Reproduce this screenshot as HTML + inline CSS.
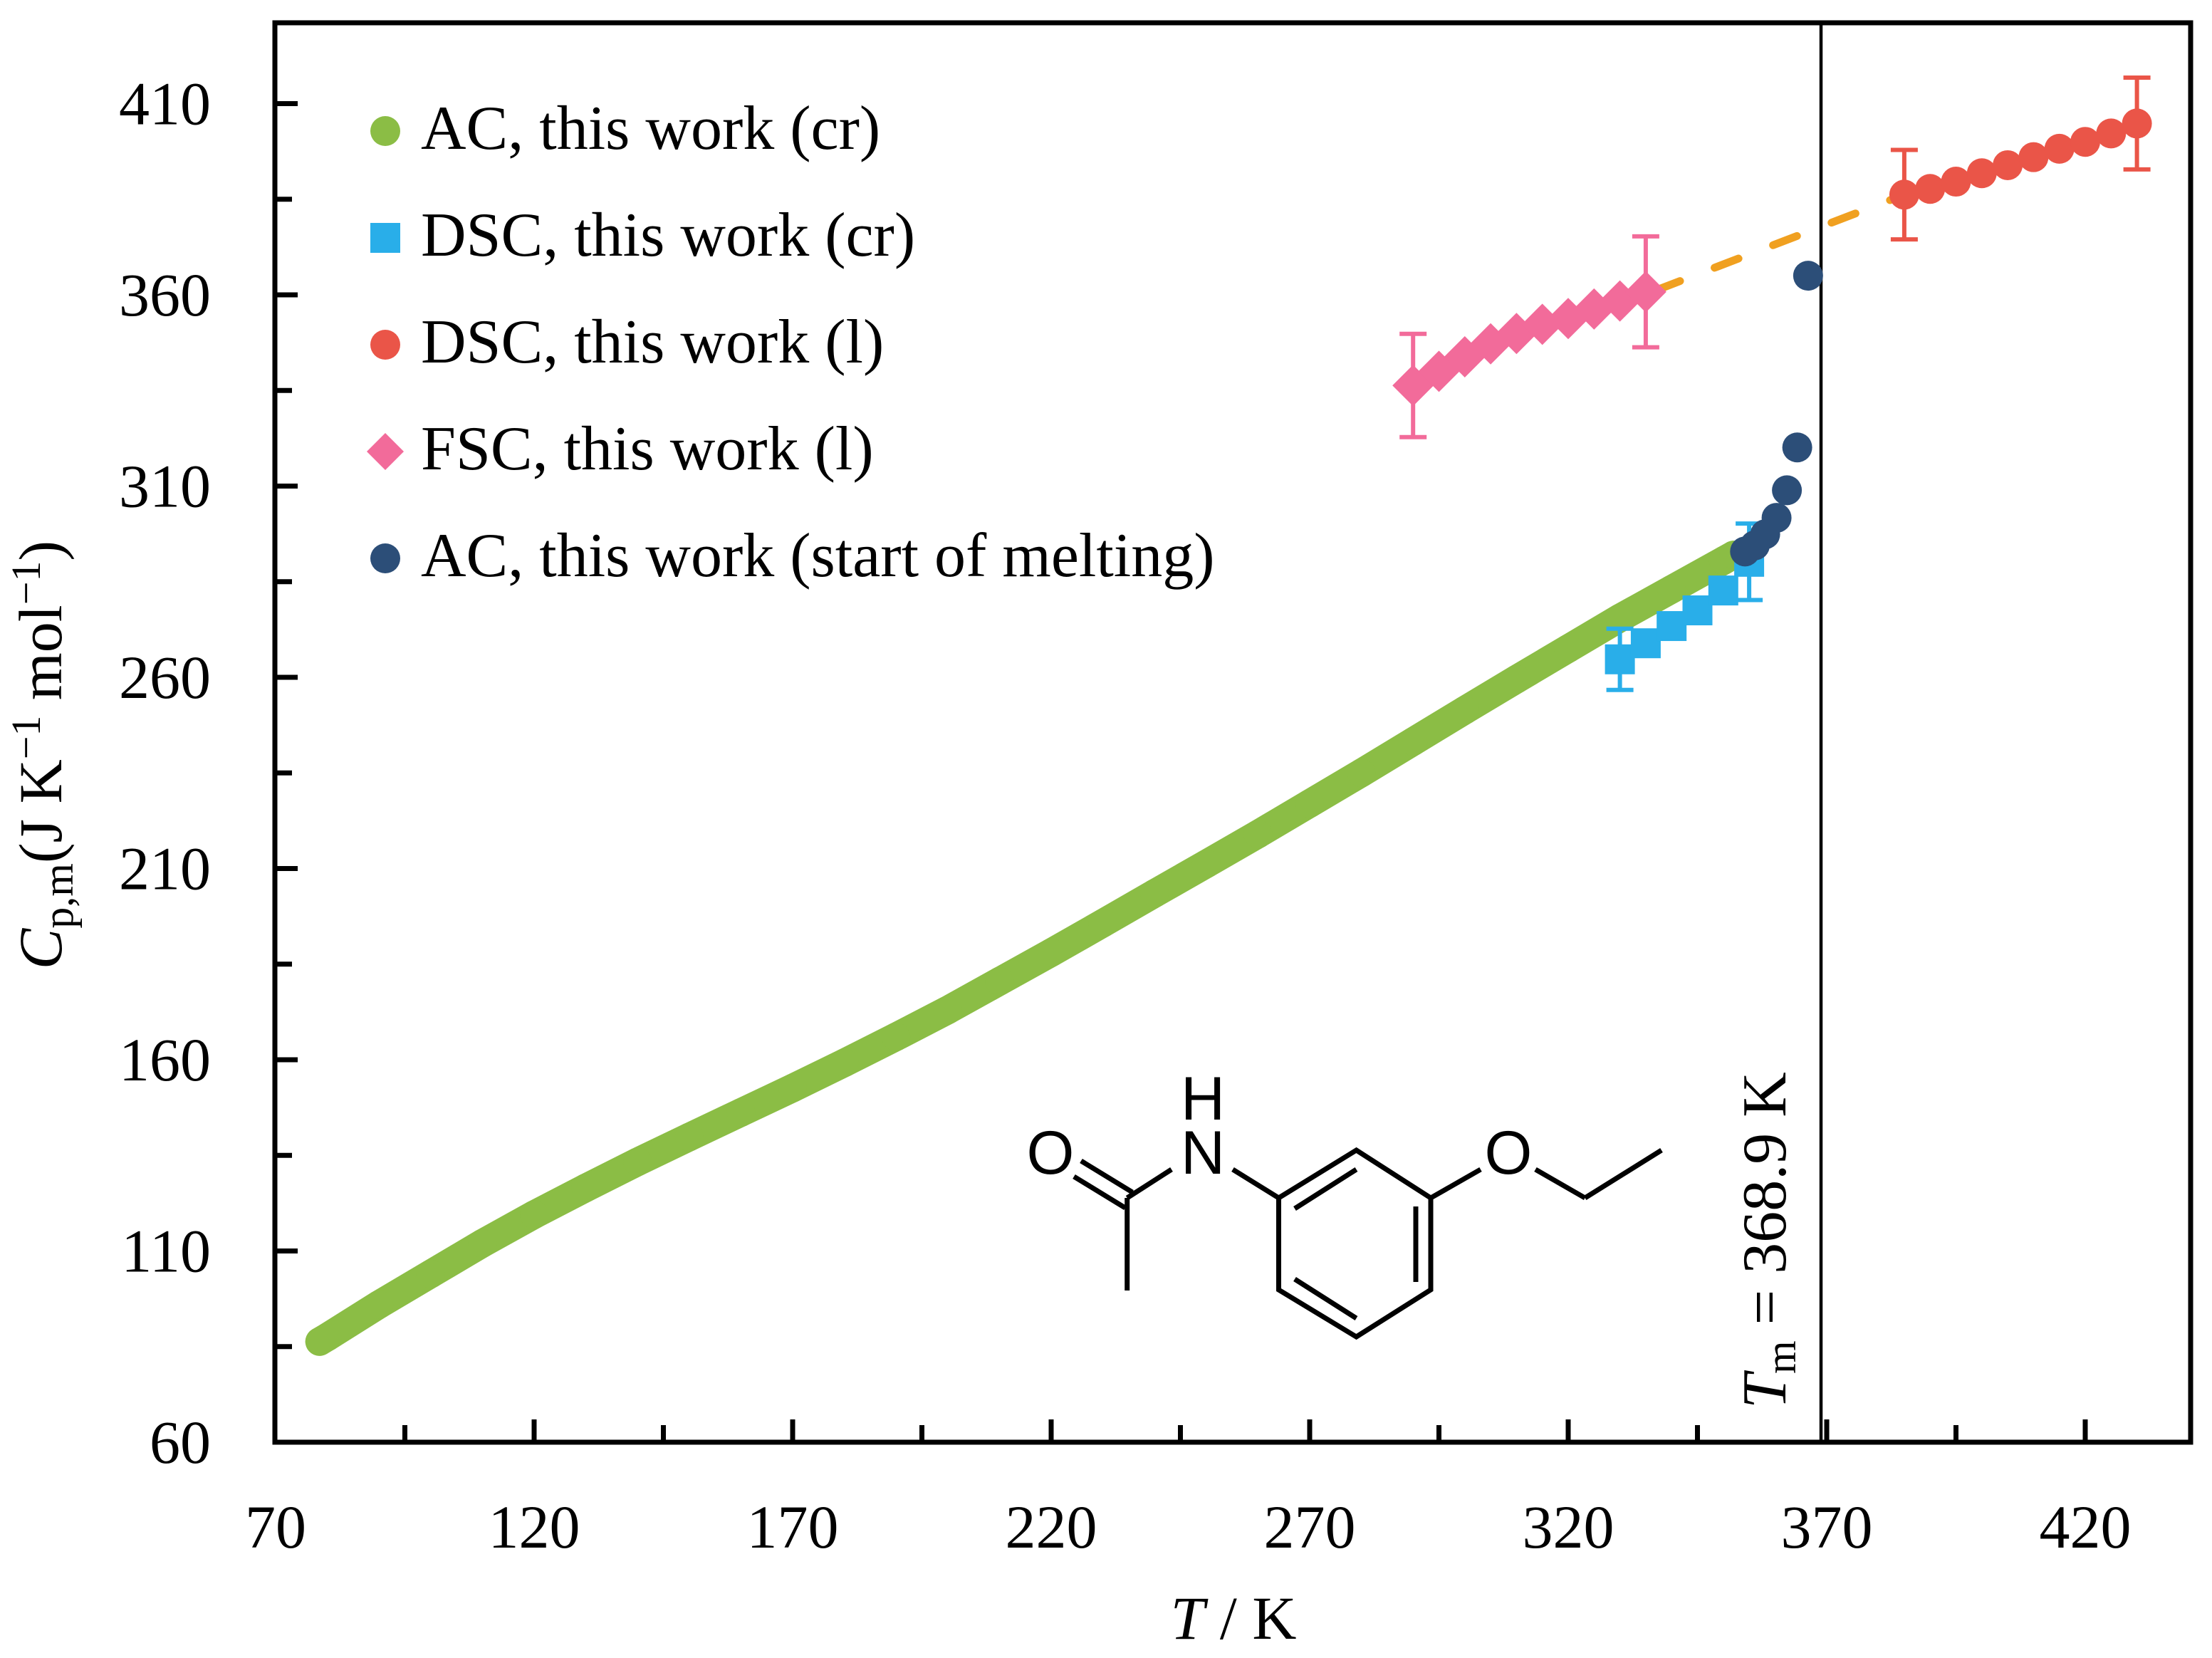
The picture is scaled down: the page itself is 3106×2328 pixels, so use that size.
<!DOCTYPE html>
<html><head><meta charset="utf-8"><style>
html,body{margin:0;padding:0;background:#fff;}
svg{display:block;}
text{font-family:"Liberation Serif",serif;fill:#000;}
.mol{font-family:"Liberation Sans",sans-serif;}
</style></head><body>
<svg id="chart" width="3106" height="2328" viewBox="0 0 3106 2328" xmlns="http://www.w3.org/2000/svg">
<rect x="0" y="0" width="3106" height="2328" fill="#fff"/>
<g id="marks"></g>
<g id="axes"></g>
<g id="molecule" stroke="#000" stroke-width="7" fill="none" stroke-linecap="butt">
  <line x1="1582.7" y1="1682" x2="1582.7" y2="1812"/>
  <line x1="1582.7" y1="1682" x2="1645" y2="1642"/>
  <line x1="1518" y1="1630" x2="1590" y2="1674"/>
  <line x1="1508" y1="1652" x2="1580" y2="1696"/>
  <line x1="1731" y1="1642" x2="1795.5" y2="1682"/>
  <polygon points="1904.5,1615 2009,1682 2009,1811 1904.5,1877 1795.5,1811 1795.5,1682"/>
  <line x1="1818" y1="1697" x2="1904.5" y2="1642"/>
  <line x1="1988" y1="1694" x2="1988" y2="1800"/>
  <line x1="1818" y1="1796" x2="1904.5" y2="1851"/>
  <line x1="2009" y1="1682" x2="2079" y2="1642"/>
  <line x1="2156" y1="1642" x2="2225.6" y2="1682"/>
  <line x1="2225.6" y1="1682" x2="2333" y2="1615"/>
  <text class="mol" x="1475" y="1648" font-size="86" text-anchor="middle" stroke="none">O</text>
  <text class="mol" x="1689" y="1648" font-size="86" text-anchor="middle" stroke="none">N</text>
  <text class="mol" x="1689" y="1572" font-size="86" text-anchor="middle" stroke="none">H</text>
  <text class="mol" x="2118" y="1648" font-size="86" text-anchor="middle" stroke="none">O</text>
</g>
</svg>
<script>
// ---- data ----
const acT = [78.5,80,90,100,110,120,130,140,150,160,170,180,190,200,210,220,230,240,250,260,270,280,290,300,310,320,330,340,350,352];
const acCp = [86.3,87.5,96,104,112,119.5,126.5,133.3,139.8,146.2,152.6,159.2,166,173,180.5,188,195.7,203.5,211.2,219,227,235,243.2,251.4,259.5,267.5,275.5,283,290.5,292];
const dscCrT = [330,335,340,345,350,355];
const dscCrCp = [264.7,268.9,273.4,277.5,282.7,290.2];
const dscCrErrIdx = [0,5];
const dscCrErr = [8,10];
const dscLT = [385,390,395,400,405,410,415,420,425,430];
const dscLCp = [386.2,387.7,389.6,391.8,393.9,396.0,398.2,400.0,402.2,404.8];
const dscLErrIdx = [0,9];
const dscLErr = [11.7,12];
const fscT = [290,295,300,305,310,315,320,325,330,335];
const fscCp = [336.3,340.0,343.8,347.2,349.9,352.3,353.8,356.3,358.4,360.8];
const fscErrIdx = [0,9];
const fscErr = [13.5,14.5];
const meltT = [354.2,356.1,358.1,360.3,362.3,364.3,366.4];
const meltCp = [292.9,294.5,297.4,301.7,308.9,320.1,365.0];
const fitT = [337,385];
const fitCp = [361.2,386.2];
const Tm = 368.9;
const xTickLabels = [70,120,170,220,270,320,370,420];
const yTickLabels = [60,110,160,210,260,310,360,410];

// ---- scales ----
const X0=387, XS=7.26, Y0=2025, YS=5.37;
const L=386, R=3076, T=32, B=2025;
function xs(t){return X0+(t-70)*XS;}
function ys(v){return Y0-(v-60)*YS;}
const NS="http://www.w3.org/2000/svg";
function mk(tag,attrs,parent){const e=document.createElementNS(NS,tag);for(const k in attrs)e.setAttribute(k,attrs[k]);parent.appendChild(e);return e;}
const marks=document.getElementById('marks');
const axes=document.getElementById('axes');

// Tm line
let tl=mk('line',{x1:xs(Tm),x2:xs(Tm),y1:T,y2:B,stroke:'#000','stroke-width':4.5},marks);


let tmt=mk('text',{transform:`translate(${xs(Tm)-50},1978) rotate(-90)`,'font-size':88},marks);


tmt.innerHTML='<tspan font-style="italic">T</tspan><tspan font-size="60" dy="14">m</tspan><tspan dy="-14"> = 368.9 K</tspan>';

// green AC band
let gp=mk('polyline',{points:acT.map((t,i)=>xs(t)+','+ys(acCp[i])).join(' '),fill:'none',stroke:'#8bbd45','stroke-width':40,'stroke-linecap':'round','stroke-linejoin':'round'},marks);


acT.forEach((t,i)=>{const c=mk('circle',{cx:xs(t),cy:ys(acCp[i]),r:20,fill:'#8bbd45'},marks);

});

function errbar(t,v,e,color,w){
  const g=mk('g',{stroke:color,'stroke-width':w},marks);
  
  
  mk('line',{x1:xs(t),x2:xs(t),y1:ys(v+e),y2:ys(v-e)},g);
  mk('line',{x1:xs(t)-19,x2:xs(t)+19,y1:ys(v+e),y2:ys(v+e)},g);
  mk('line',{x1:xs(t)-19,x2:xs(t)+19,y1:ys(v-e),y2:ys(v-e)},g);
}

// DSC cr
dscCrErrIdx.forEach((k,j)=>errbar(dscCrT[k],dscCrCp[k],dscCrErr[j],'#29aee9',6));
dscCrT.forEach((t,i)=>{const s=mk('rect',{x:xs(t)-21,y:ys(dscCrCp[i])-21,width:42,height:42,fill:'#29aee9'},marks);

});

// fit dashed
let fl=mk('line',{x1:xs(fitT[0]),y1:ys(fitCp[0]),x2:xs(fitT[1]),y2:ys(fitCp[1]),stroke:'#f0a020','stroke-width':11,'stroke-dasharray':'36 52','stroke-linecap':'round'},marks);



// FSC
fscErrIdx.forEach((k,j)=>errbar(fscT[k],fscCp[k],fscErr[j],'#f26b9a',6));
fscT.forEach((t,i)=>{const x=xs(t),y=ys(fscCp[i]);const d=mk('polygon',{points:`${x},${y-29} ${x+29},${y} ${x},${y+29} ${x-29},${y}`,fill:'#f26b9a'},marks);

});

// DSC l
dscLErrIdx.forEach((k,j)=>errbar(dscLT[k],dscLCp[k],dscLErr[j],'#ea5548',6));
dscLT.forEach((t,i)=>{const c=mk('circle',{cx:xs(t),cy:ys(dscLCp[i]),r:21,fill:'#ea5548'},marks);

});

// melting
meltT.forEach((t,i)=>{const c=mk('circle',{cx:xs(t),cy:ys(meltCp[i]),r:21,fill:'#2c4e78'},marks);

});

// axes frame
let fr=mk('rect',{x:L,y:T,width:R-L,height:B-T,fill:'none',stroke:'#000','stroke-width':7},axes);


for(let t=70;t<=440;t+=25){if(t===70)continue;const maj=(t-70)%50===0;
 const tk=mk('line',{x1:xs(t),x2:xs(t),y1:B,y2:B-(maj?32:24),stroke:'#000','stroke-width':7},axes);
 
 }
for(let v=60;v<=430;v+=25){if(v===60)continue;const maj=(v-60)%50===0;
 const tk=mk('line',{x1:L,x2:L+(maj?32:24),y1:ys(v),y2:ys(v),stroke:'#000','stroke-width':7},axes);
 
 }
xTickLabels.forEach(t=>{const e=mk('text',{x:xs(t),y:2173,'font-size':86,'text-anchor':'middle'},axes);e.textContent=t;
 
 });
yTickLabels.forEach(v=>{const e=mk('text',{x:296,y:ys(v)+29,'font-size':86,'text-anchor':'end'},axes);e.textContent=v;
 
 });
let xt=mk('text',{x:1732,y:2301,'font-size':86,'text-anchor':'middle'},axes);


xt.innerHTML='<tspan font-style="italic">T</tspan> / K';
let yt=mk('text',{transform:'translate(86,1060) rotate(-90)','font-size':86,'text-anchor':'middle'},axes);


yt.innerHTML='<tspan font-style="italic">C</tspan><tspan font-size="60" dy="16">p,m</tspan><tspan dy="-16">(J K</tspan><tspan font-size="58" dy="-30">−1</tspan><tspan dy="30"> mol</tspan><tspan font-size="58" dy="-30">−1</tspan><tspan dy="30">)</tspan>';

// legend
const legLabels=['AC, this work (cr)','DSC, this work (cr)','DSC, this work (l)','FSC, this work (l)','AC, this work (start of melting)'];
const legColors=['#8bbd45','#29aee9','#ea5548','#f26b9a','#2c4e78'];
const legShapes=['circle','square','circle','diamond','circle'];
legLabels.forEach((lab,i)=>{const cy=184+i*150, cx=541;
 const g=mk('g',{},axes);
 
 
 const s=legShapes[i];
 if(s==='circle')mk('circle',{cx:cx,cy:cy,r:21,fill:legColors[i]},g);
 else if(s==='square')mk('rect',{x:cx-21,y:cy-21,width:42,height:42,fill:legColors[i]},g);
 else mk('polygon',{points:`${cx},${cy-26} ${cx+26},${cy} ${cx},${cy+26} ${cx-26},${cy}`,fill:legColors[i]},g);
 const tx=mk('text',{x:591,y:cy+25,'font-size':88},g);tx.textContent=lab;});
</script>
</body></html>
